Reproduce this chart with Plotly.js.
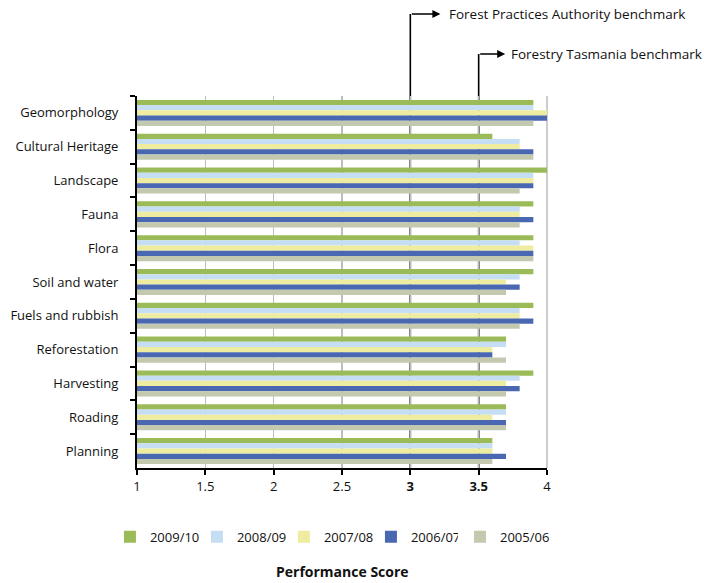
<!DOCTYPE html>
<html>
<head>
<meta charset="utf-8">
<script src="https://cdn.plot.ly/plotly-3.0.1.min.js"></script>
<style>html,body{margin:0;padding:0;background:#fff;}#chart{width:704px;height:583px;}</style>
</head>
<body>
<div id="chart"></div>
<script>
const categories = ['Geomorphology','Cultural Heritage','Landscape','Fauna','Flora','Soil and water','Fuels and rubbish','Reforestation','Harvesting','Roading','Planning'];
const seriesNames = ['2009/10','2008/09','2007/08','2006/07','2005/06'];
const v2009 = [3.9,3.6,4.0,3.9,3.9,3.9,3.9,3.7,3.9,3.7,3.6];
const v2008 = [3.9,3.8,3.9,3.8,3.8,3.8,3.8,3.7,3.8,3.7,3.6];
const v2007 = [4.0,3.8,3.9,3.8,3.9,3.7,3.8,3.6,3.7,3.6,3.6];
const v2006 = [4.0,3.9,3.9,3.9,3.9,3.8,3.9,3.6,3.8,3.7,3.7];
const v2005 = [3.9,3.9,3.8,3.8,3.9,3.7,3.8,3.7,3.7,3.7,3.6];
const tickVals = [1,1.5,2,2.5,3,3.5,4];
const tickText = ['1','1.5','2','2.5','<b>3</b>','<b>3.5</b>','4'];
const benchmarks = [3, 3.5];
const benchmarkLabels = ['Forest Practices Authority benchmark','Forestry Tasmania benchmark'];
const xTitle = 'Performance Score';

const colors = ['#9BBB59','#C6DEF3','#EEECA0','#4A67B1','#C2C9AE'];
const allVals = [v2009,v2008,v2007,v2006,v2005];
const font = "'Open Sans', 'Noto Sans', sans-serif";

const traces = allVals.map((v,i)=>({
  type:'bar', orientation:'h', name:seriesNames[i], y:categories, x:v,
  marker:{color:colors[i], line:{width:0}}, hoverinfo:'skip',
  legend: i === 4 ? 'legend2' : 'legend'
}));

const cornerY = [1.2204, 1.113];
const headX = [3.22, 3.694];
const textX = [3.27, 3.725];

const shapes = benchmarks.map((b,i)=>({
  type:'line', xref:'x', yref:'paper', x0:b, x1:b, y0:0, y1:cornerY[i],
  line:{color:'#000', width:1.6}, layer:'below'
}));
shapes.push({type:'line', xref:'paper', yref:'paper', x0:1, x1:1, y0:0, y1:1, line:{color:'#BDBDBD', width:1.5}, layer:'below'});
const annotations = [];
benchmarks.forEach((b,i)=>{
  annotations.push({xref:'x', yref:'paper', axref:'x', ayref:'paper', x:headX[i], y:cornerY[i], ax:b, ay:cornerY[i],
    text:'', showarrow:true, arrowhead:2, arrowsize:1, arrowwidth:1.6, arrowcolor:'#000', standoff:0});
  annotations.push({xref:'x', yref:'paper', x:textX[i], y:cornerY[i], xanchor:'left', yanchor:'middle',
    text:benchmarkLabels[i], showarrow:false, font:{family:font, size:13.5, color:'#111'}});
});
annotations.push({xref:'paper', yref:'paper', x:0.5, y:-0.278, xanchor:'center', yanchor:'middle', showarrow:false,
  text:'<b>'+xTitle+'</b>', font:{family:font, size:14, color:'#111'}});

const legendFont = {family:font,size:13,color:'#111'};
const layout = {
  width:704, height:583,
  margin:{l:137, r:157, t:96, b:115, pad:0},
  paper_bgcolor:'#fff', plot_bgcolor:'#fff',
  font:{family:font, size:13, color:'#111'},
  barmode:'group', bargap:0.23, bargroupgap:0,
  showlegend:true,
  legend:{orientation:'h', x:-0.066, xanchor:'left', xref:'paper', y:-0.185, yref:'paper', yanchor:'middle',
    traceorder:'normal', entrywidth:42, entrywidthmode:'pixels', itemwidth:30, font:legendFont},
  legend2:{orientation:'h', x:0.7878, xanchor:'left', xref:'paper', y:-0.185, yref:'paper', yanchor:'middle',
    traceorder:'normal', itemwidth:30, font:legendFont},
  xaxis:{range:[1,4], tickvals:tickVals, ticktext:tickText, showgrid:true, gridcolor:'#BDBDBD', gridwidth:1.5,
    showline:true, linecolor:'#000', linewidth:2, ticks:'outside', ticklen:5, tickwidth:2, tickcolor:'#000',
    zeroline:false, fixedrange:true, tickfont:{family:font,size:13,color:'#111'}},
  yaxis:{type:'category', autorange:'reversed', showline:true, linecolor:'#000', linewidth:2,
    ticks:'outside', ticklen:5, tickwidth:2, tickcolor:'#000', tickson:'boundaries', showgrid:false, zeroline:false,
    ticklabelstandoff:14, fixedrange:true, tickfont:{family:font,size:13,color:'#111'}},
  shapes:shapes, annotations:annotations
};
Plotly.newPlot('chart', traces, layout, {displayModeBar:false, staticPlot:true});
</script>
</body>
</html>
